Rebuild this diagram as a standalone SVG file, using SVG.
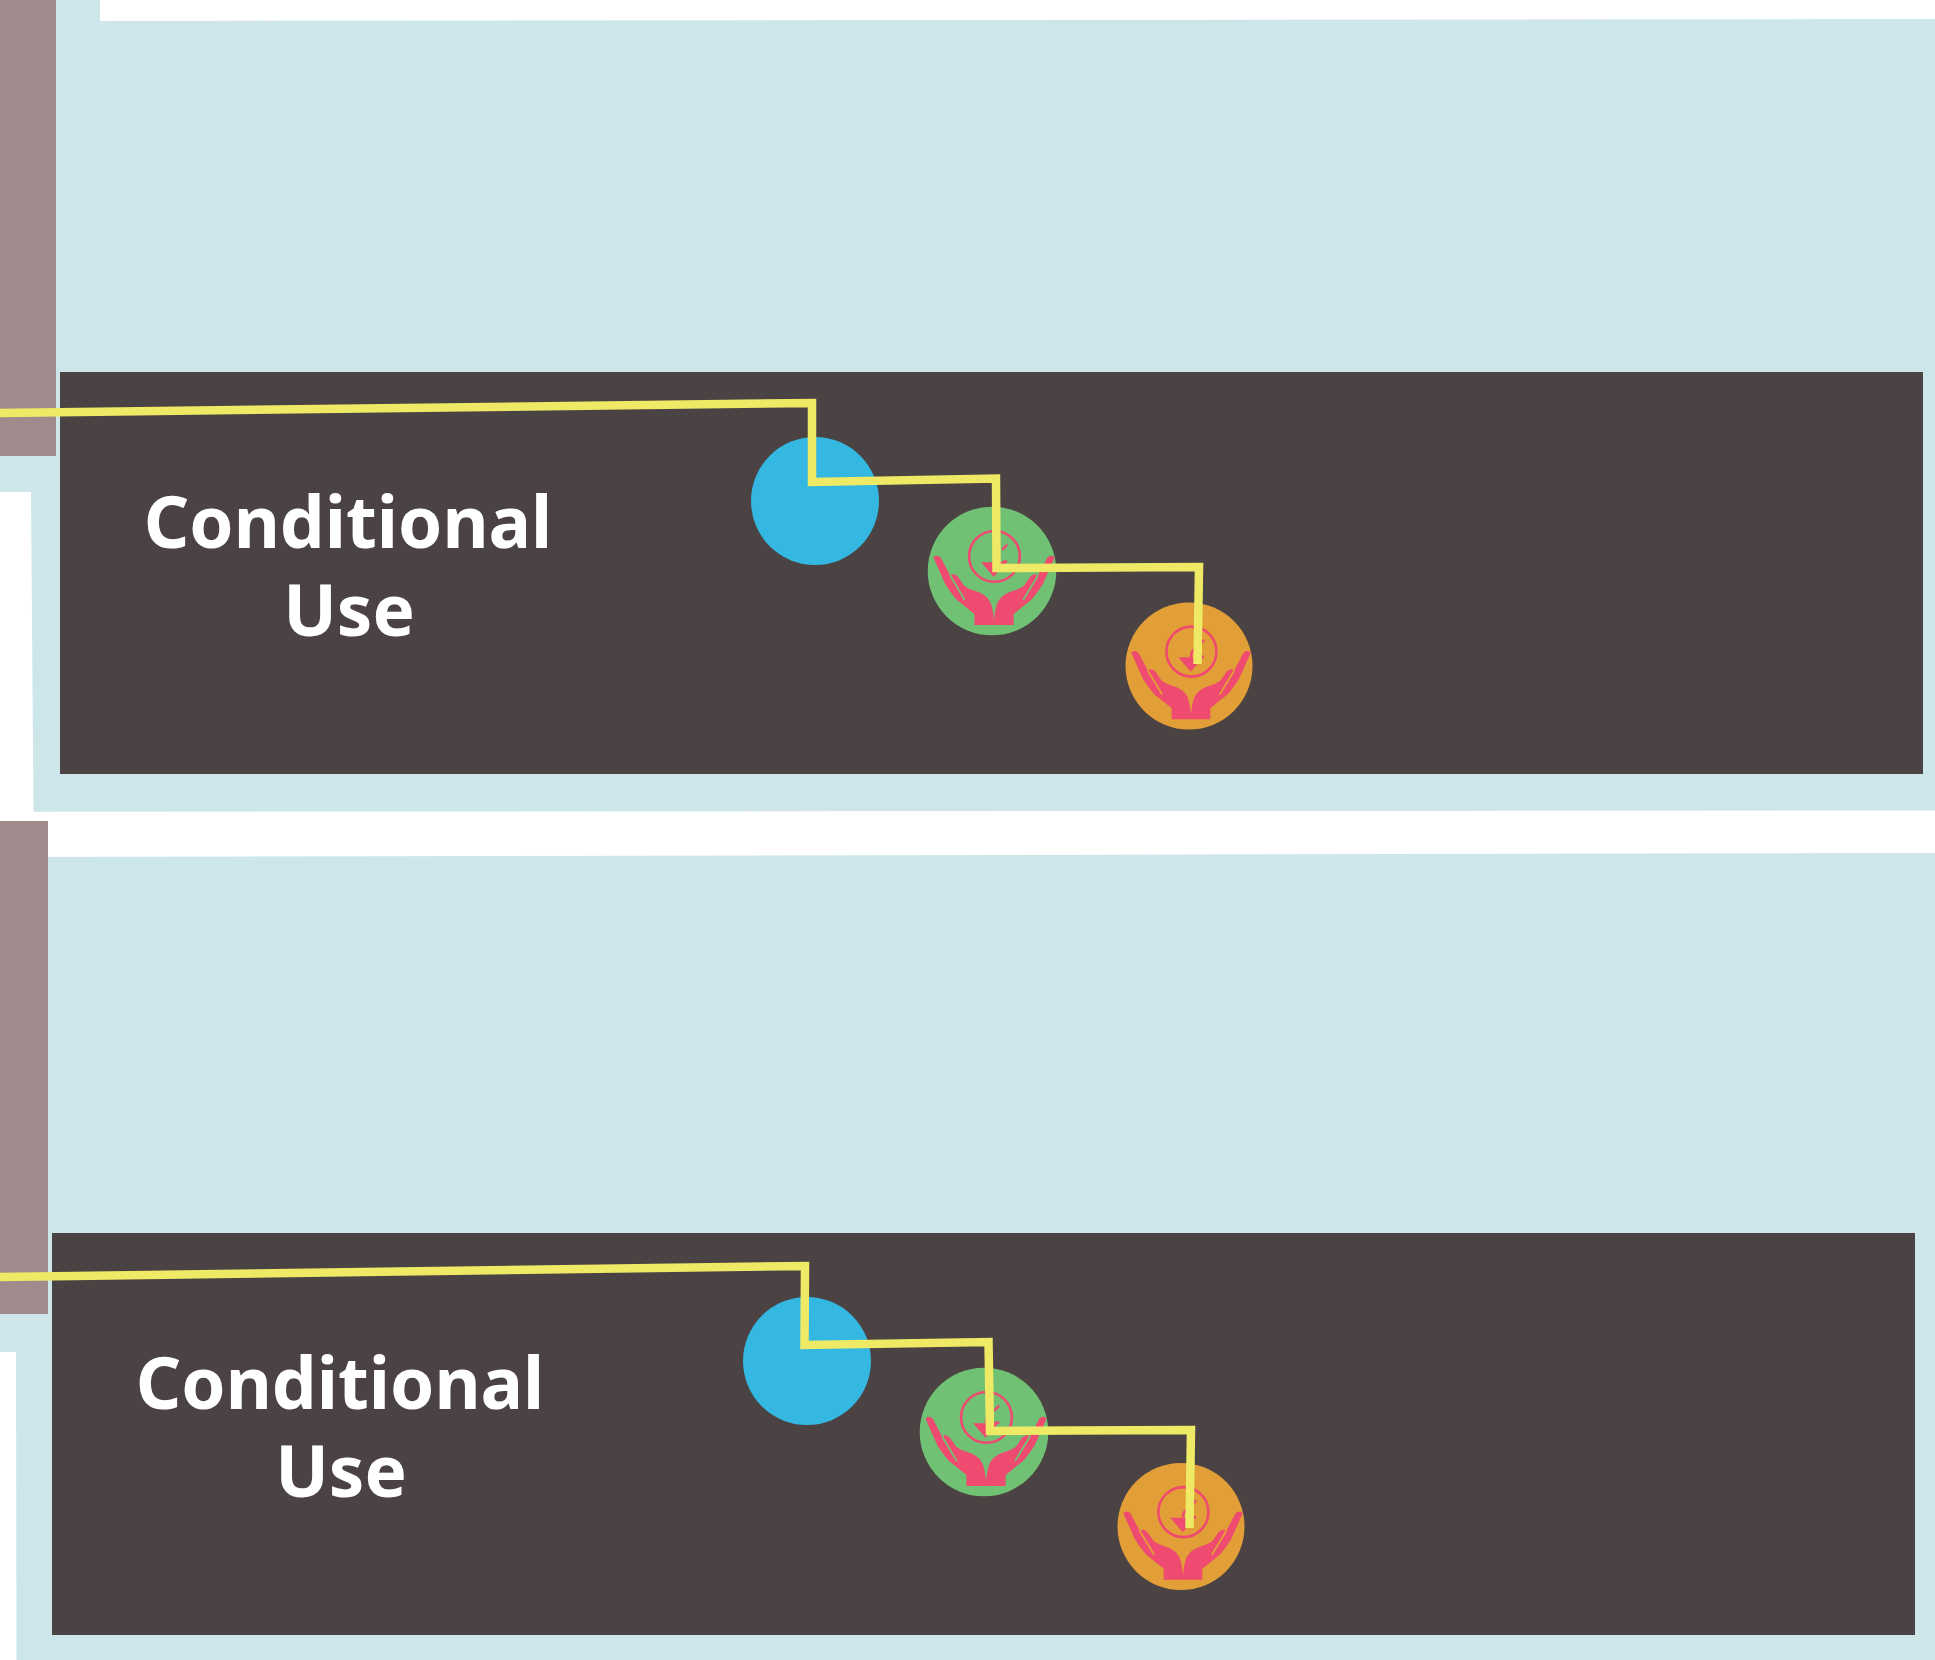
<svg xmlns="http://www.w3.org/2000/svg" width="1935" height="1660" viewBox="0 0 1935 1660">
<style>
.bg{fill:#cde6ea}.side{fill:#9f8b8b}.panel{fill:#4b4243}
.label{font-family:"Noto Sans","Open Sans",sans-serif;font-weight:700;font-size:71px;fill:#fff;text-anchor:middle}
.conn{fill:none;stroke:#eeea66;stroke-width:8.500;stroke-linejoin:miter}
.ring{fill:none;stroke:#ef4a6f;stroke-width:2.600}
.ink{fill:#ef4a6f}
</style>
<defs>
<path id="hand" class="ink" d="M-57.700,-13.300Q-54,-17 -50.300,-12.700L-42,3L-41.200,6.500L-27.500,29L-26,28L-39.600,5.500Q-40.500,3.500 -39.700,3.300Q-36,2.500 -33.500,5.700L-27.500,14.500Q-23,18 -15.700,20Q-6,23 -2,30Q1,36 2,49L2,53.300H-17.300V42.300L-35,28Q-41,21 -46,13Z"/>
<g id="icon">
<circle class="ring" cx="2.400" cy="-14.400" r="25"/>
<path class="ink" d="M-10.700,-8.700H14.300L1.700,5.800Z"/>
<path class="ring" d="M2,-9C2,-15 5,-17 8,-17.300M10,-21L15,-26M10,-8.500L15,-9.500"/>
<use href="#hand"/>
<use href="#hand" transform="translate(4,0) scale(-1,1)"/>
</g>
</defs>
<g id="band-top">
<polygon class="bg" points="0,0 100,0 100,21 1935,19 1935,810.500 33.500,811.700 31,492 0,492"/>
<rect class="side" x="0" y="0" width="56" height="456"/>
<rect class="panel" x="60" y="372" width="1863" height="402"/>
</g>
<g id="band-bottom">
<polygon class="bg" points="0,857 1935,853 1935,1660 16.500,1660 16,1352 0,1352"/>
<rect class="side" x="0" y="821" width="48" height="493"/>
<rect class="panel" x="52" y="1233" width="1863" height="402"/>
</g>
<g id="label-top"><text class="label" x="348" y="548">Conditional</text><text class="label" x="349" y="636">Use</text></g>
<g id="label-bottom"><text class="label" x="340" y="1409">Conditional</text><text class="label" x="341" y="1497">Use</text></g>
<g id="node-blue-top"><circle cx="815" cy="501" r="64" fill="#34b7e0"/></g>
<g id="node-green-top"><circle cx="992" cy="571" r="64.300" fill="#70c174"/><use href="#icon" transform="translate(992,571) scale(1.015)"/></g>
<g id="node-orange-top"><circle cx="1189" cy="666" r="63.500" fill="#e29e37"/><use href="#icon" transform="translate(1189,666)"/></g>
<g id="node-blue-bottom"><circle cx="807" cy="1361" r="64" fill="#34b7e0"/></g>
<g id="node-green-bottom"><circle cx="984" cy="1432" r="64.300" fill="#70c174"/><use href="#icon" transform="translate(984,1432) scale(1.015)"/></g>
<g id="node-orange-bottom"><circle cx="1181" cy="1526.500" r="63.500" fill="#e29e37"/><use href="#icon" transform="translate(1181,1526.500)"/></g>
<g id="connectors">
<path class="conn" d="M0,413L812,403L812,482L996,478.500L996.500,568L1199,567L1197.500,664"/>
<path class="conn" d="M0,1277L805,1266L804.500,1345L988.500,1342L990,1431L1191,1430L1189.500,1528"/>
</g>
</svg>
